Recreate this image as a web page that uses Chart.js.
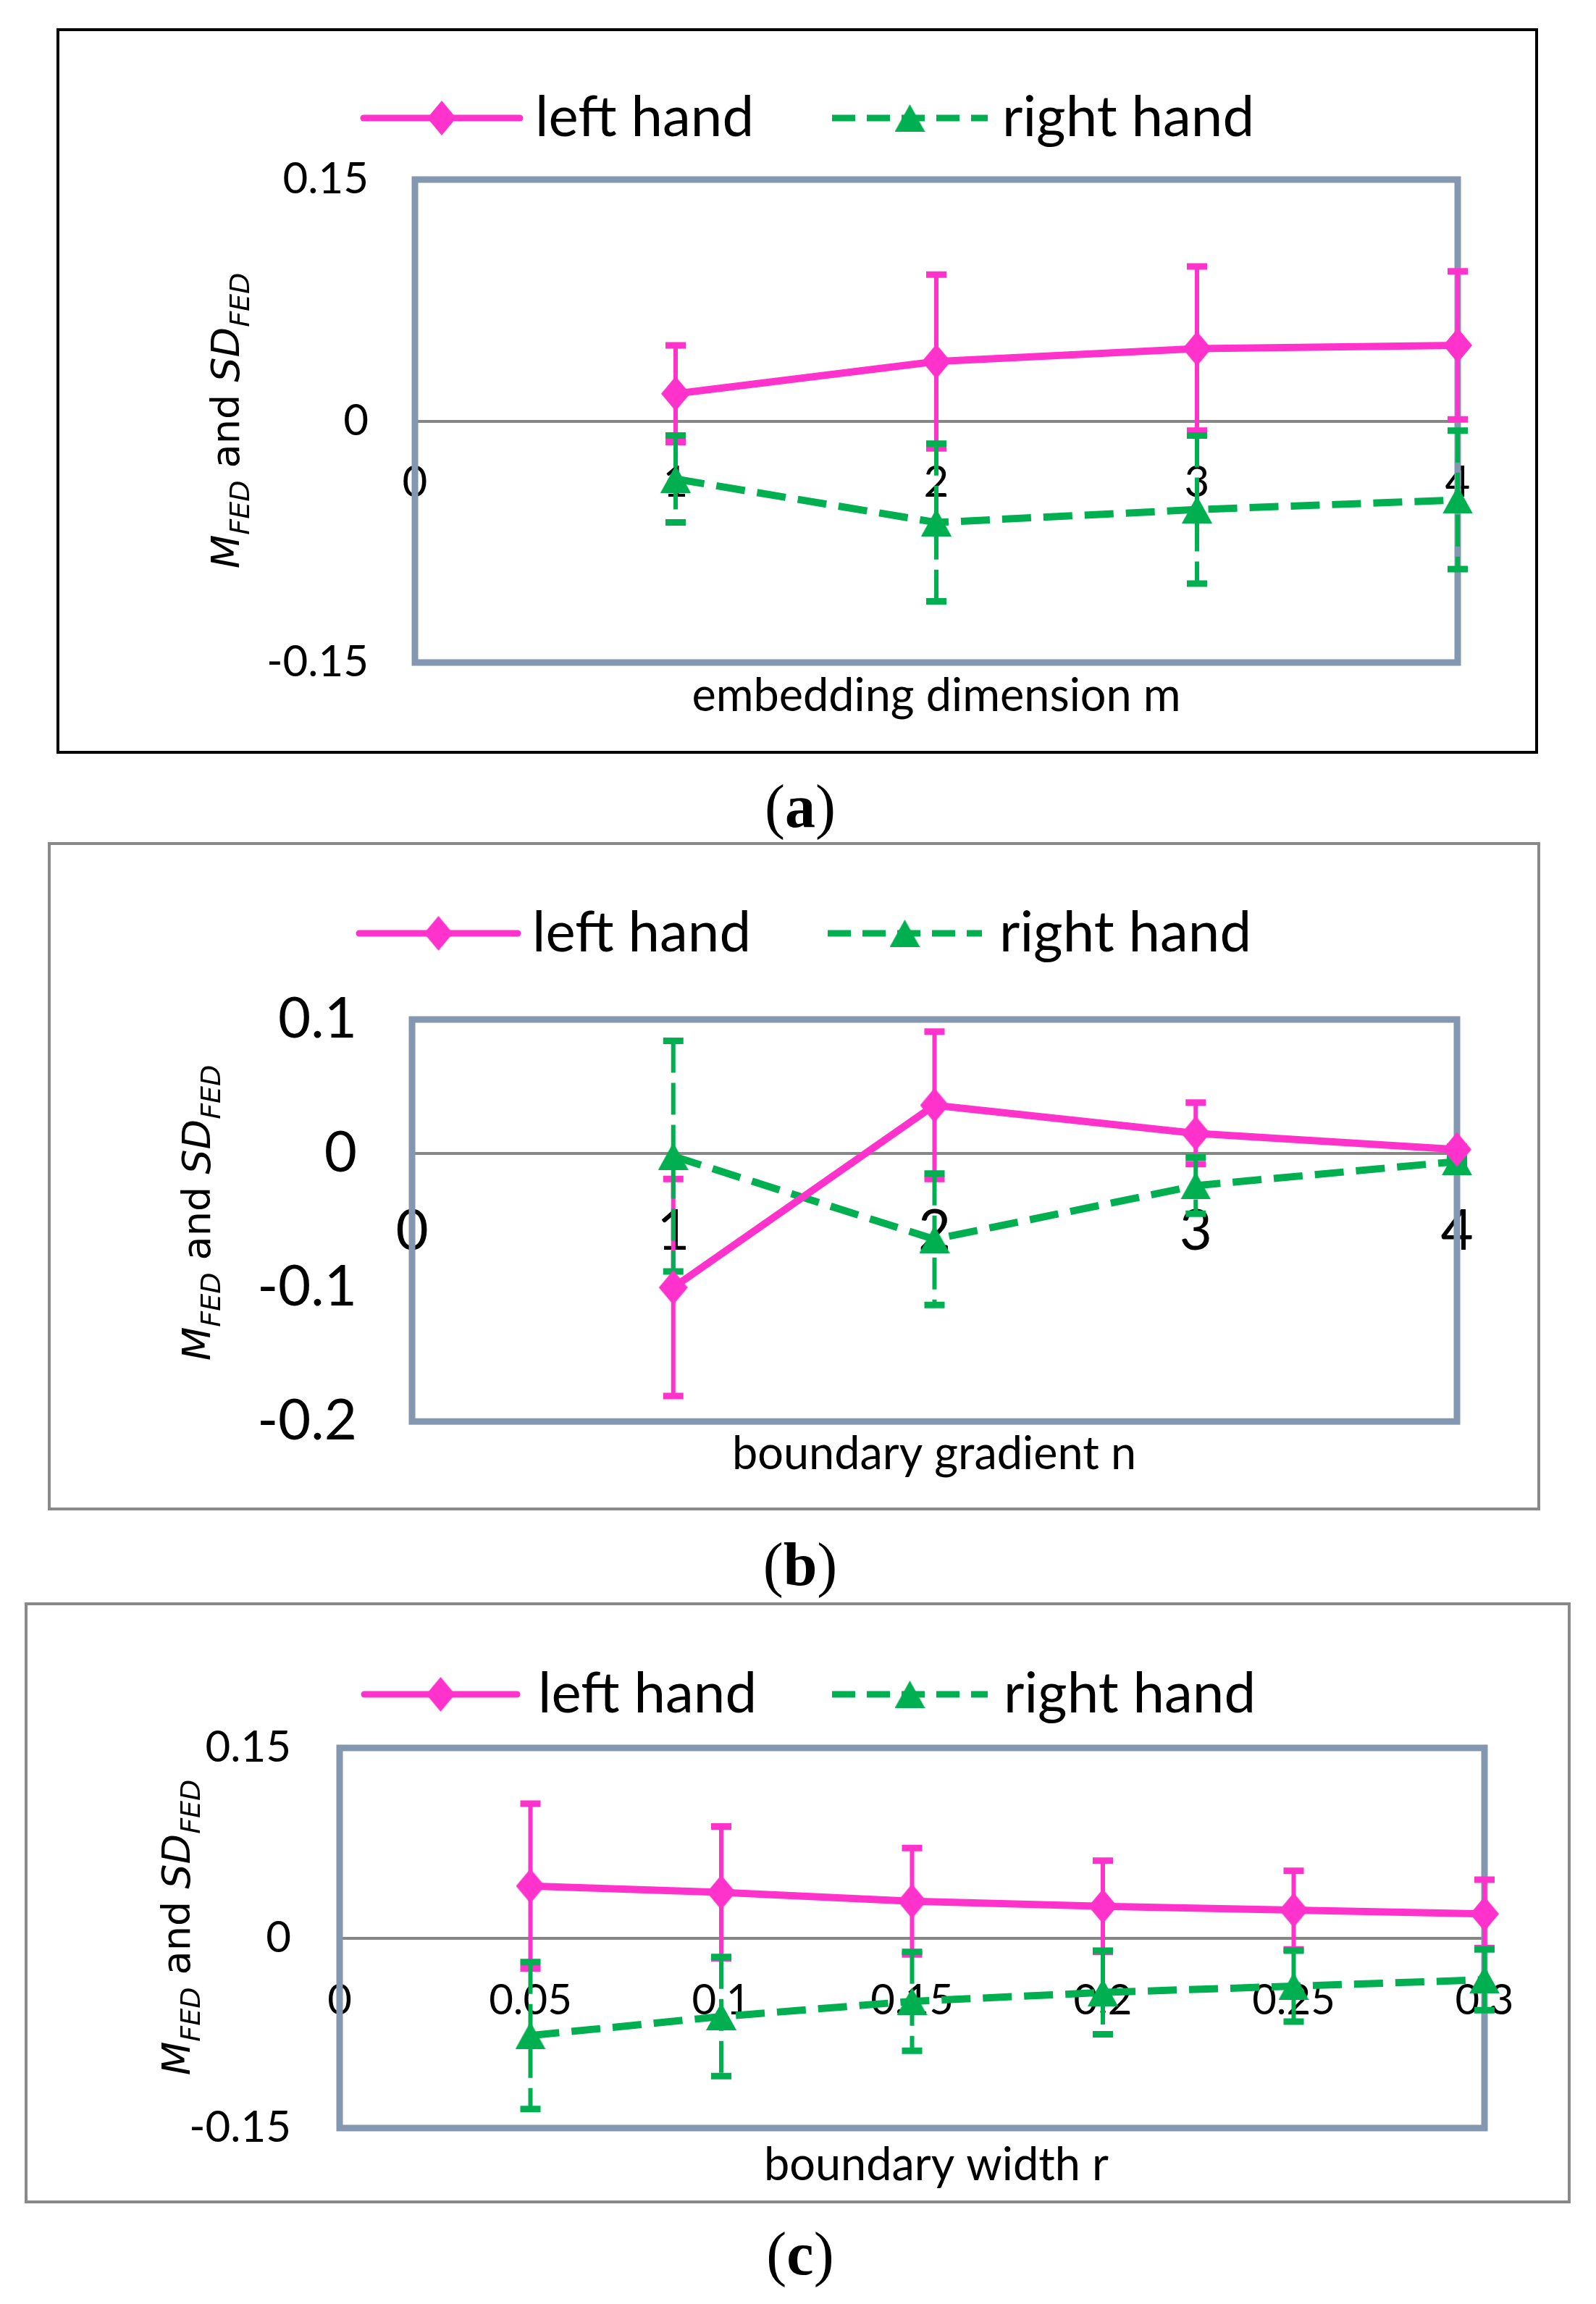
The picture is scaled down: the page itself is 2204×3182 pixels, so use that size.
<!DOCTYPE html>
<html>
<head>
<meta charset="utf-8">
<title>M FED and SD FED</title>
<script src="https://cdn.jsdelivr.net/npm/chart.js@4.4.1/dist/chart.umd.min.js"></script>
<style>
  body { margin: 0; width: 2204px; height: 3182px; background: #fff; position: relative; overflow: hidden; }
  canvas { position: absolute; }
  .caption { position: absolute; left: 0; width: 2210px; text-align: center; font-family: "Liberation Serif", serif; font-size: 84px; line-height: 84px; color: #000; }
</style>
</head>
<body>
<canvas id="chart-a"></canvas>
<canvas id="chart-b"></canvas>
<canvas id="chart-c"></canvas>
<div class="caption" style="top:1072px">(<b>a</b>)</div>
<div class="caption" style="top:2119px">(<b>b</b>)</div>
<div class="caption" style="top:3071px">(<b>c</b>)</div>
<script>
// Values

// (a) embedding dimension m
const mValues = [1, 2, 3, 4];
const leftMeanA = [0.017, 0.037, 0.045, 0.047];
const leftSdA = [0.030, 0.054, 0.051, 0.046];
const rightMeanA = [-0.036, -0.063, -0.055, -0.049];
const rightSdA = [0.027, 0.049, 0.046, 0.043];
const xTicksA = [0, 1, 2, 3, 4];
const yTicksA = [-0.15, 0, 0.15];

// (b) boundary gradient n
const nValues = [1, 2, 3, 4];
const leftMeanB = [-0.100, 0.036, 0.015, 0.003];
const leftSdB = [0.081, 0.055, 0.023, 0.002];
const rightMeanB = [-0.002, -0.064, -0.024, -0.006];
const rightSdB = [0.086, 0.049, 0.021, 0.002];
const xTicksB = [0, 1, 2, 3, 4];
const yTicksB = [-0.2, -0.1, 0, 0.1];

// (c) boundary width r
const rValues = [0.05, 0.1, 0.15, 0.2, 0.25, 0.3];
const leftMeanC = [0.041, 0.036, 0.029, 0.025, 0.022, 0.019];
const leftSdC = [0.065, 0.052, 0.042, 0.036, 0.031, 0.027];
const rightMeanC = [-0.077, -0.062, -0.050, -0.043, -0.038, -0.033];
const rightSdC = [0.058, 0.047, 0.039, 0.033, 0.028, 0.024];
const xTicksC = [0, 0.05, 0.1, 0.15, 0.2, 0.25, 0.3];
const yTicksC = [-0.15, 0, 0.15];

const seriesNames = ['left hand', 'right hand'];

const PINK = '#FF33CC';
const GREEN = '#00B050';
const FRAME = '#8497B0';
const DASH = [40, 17];

// Marker images (Excel style: tall diamond, filled triangle)
function makeMarker(kind, color) {
    const c = document.createElement('canvas');
    const w = kind === 'diamond' ? 40 : 42;
    const h = kind === 'diamond' ? 48 : 38;
    c.width = w; c.height = h;
    const g = c.getContext('2d');
    g.fillStyle = color;
    g.beginPath();
    if (kind === 'diamond') {
        g.moveTo(w / 2, 0); g.lineTo(w, h / 2); g.lineTo(w / 2, h); g.lineTo(0, h / 2);
    } else {
        g.moveTo(w / 2, 0); g.lineTo(w, h); g.lineTo(0, h);
    }
    g.closePath();
    g.fill();
    return c;
}
const diamond = makeMarker('diamond', PINK);
const triangle = makeMarker('triangle', GREEN);

// Draw the M_FED and SD_FED label, rotated, with subscripts
function drawYTitle(ctx, x, y) {
    const parts = [
        { t: 'M', f: 'italic 54px "DejaVu Sans"', dy: 0 },
        { t: 'FED', f: 'italic 38px "DejaVu Sans"', dy: 14 },
        { t: ' and ', f: '54px "DejaVu Sans"', dy: 0 },
        { t: 'SD', f: 'italic 54px "DejaVu Sans"', dy: 0 },
        { t: 'FED', f: 'italic 38px "DejaVu Sans"', dy: 14 }
    ];
    ctx.save();
    ctx.translate(x, y);
    ctx.rotate(-Math.PI / 2);
    ctx.fillStyle = '#000';
    ctx.textBaseline = 'alphabetic';
    ctx.textAlign = 'left';
    let total = 0;
    parts.forEach(p => { ctx.font = p.f; total += ctx.measureText(p.t).width; });
    let pos = -total / 2;
    parts.forEach(p => {
        ctx.font = p.f;
        ctx.fillText(p.t, pos, p.dy);
        pos += ctx.measureText(p.t).width;
    });
    ctx.restore();
}

// Legend: line sample with marker, then the series name
function drawLegend(ctx, p, ox, oy) {
    const y = p.legendY - oy;
    const L = p.legendX.map(v => v - ox);
    ctx.save();
    ctx.lineWidth = 9;
    ctx.lineCap = 'round';
    ctx.strokeStyle = PINK;
    ctx.beginPath(); ctx.moveTo(L[0], y); ctx.lineTo(L[1], y); ctx.stroke();
    let mx = (L[0] + L[1]) / 2;
    ctx.drawImage(diamond, mx - diamond.width / 2, y - diamond.height / 2);

    ctx.lineCap = 'butt';
    ctx.strokeStyle = GREEN;
    ctx.setLineDash([32, 16]);
    ctx.beginPath(); ctx.moveTo(L[3], y); ctx.lineTo(L[4], y); ctx.stroke();
    ctx.setLineDash([]);
    mx = (L[3] + L[4]) / 2;
    ctx.drawImage(triangle, mx - triangle.width / 2, y - triangle.height / 2);

    ctx.fillStyle = '#000';
    ctx.font = '78px Lato';
    ctx.textBaseline = 'middle';
    ctx.textAlign = 'left';
    ctx.fillText(seriesNames[0], L[2], y);
    ctx.fillText(seriesNames[1], L[5], y);
    ctx.restore();
}

// Plugin for the panel furniture and the error bars
function panelDecor(p) {
    const ox = p.box[0], oy = p.box[1];
    return {
        id: 'panelDecor',
        beforeDatasetsDraw(chart) {
            const { ctx, chartArea: a, scales: { x, y } } = chart;
            // plot area frame
            ctx.save();
            ctx.strokeStyle = FRAME;
            ctx.lineWidth = 9;
            ctx.strokeRect(a.left, a.top, a.right - a.left, a.bottom - a.top);
            ctx.restore();

            // error bars (mean +/- sd)
            chart.data.datasets.forEach(ds => {
                ctx.save();
                ctx.strokeStyle = ds.borderColor;
                ds.data.forEach((pt, i) => {
                    const px = x.getPixelForValue(pt.x);
                    const top = y.getPixelForValue(pt.y + ds.sd[i]);
                    const bot = y.getPixelForValue(pt.y - ds.sd[i]);
                    ctx.setLineDash(ds.borderDash ? [44, 14] : []);
                    ctx.lineWidth = 6;
                    ctx.beginPath(); ctx.moveTo(px, top); ctx.lineTo(px, bot); ctx.stroke();
                    ctx.setLineDash([]);
                    ctx.lineWidth = 9;
                    ctx.beginPath();
                    ctx.moveTo(px - 14, top); ctx.lineTo(px + 14, top);
                    ctx.moveTo(px - 14, bot); ctx.lineTo(px + 14, bot);
                    ctx.stroke();
                });
                ctx.restore();
            });
        },
        afterDraw(chart) {
            const ctx = chart.ctx;
            // outer box
            ctx.save();
            ctx.strokeStyle = p.boxColor;
            ctx.lineWidth = 4;
            ctx.strokeRect(2, 2, chart.width - 4, chart.height - 4);
            ctx.restore();

            drawLegend(ctx, p, ox, oy);

            // x axis title
            ctx.save();
            ctx.fillStyle = '#000';
            ctx.font = '63px Lato';
            ctx.textAlign = 'center';
            ctx.textBaseline = 'middle';
            ctx.fillText(p.xTitle, p.xTitlePos[0] - ox, p.xTitlePos[1] - oy);
            ctx.restore();

            drawYTitle(ctx, p.yTitlePos[0] - ox, p.yTitlePos[1] - oy);
        }
    };
}

function buildChart(id, p) {
    const canvas = document.getElementById(id);
    canvas.width = p.box[2] - p.box[0];
    canvas.height = p.box[3] - p.box[1];
    canvas.style.left = p.box[0] + 'px';
    canvas.style.top = p.box[1] + 'px';

    return new Chart(canvas.getContext('2d'), {
        type: 'line',
        data: {
            datasets: [{
                label: seriesNames[0],
                data: p.x.map((v, i) => ({ x: v, y: p.leftMean[i] })),
                sd: p.leftSd,
                borderColor: PINK,
                backgroundColor: PINK,
                borderWidth: 10,
                borderJoinStyle: 'round',
                pointStyle: diamond,
                pointRadius: 22,
                tension: 0,
                clip: false
            }, {
                label: seriesNames[1],
                data: p.x.map((v, i) => ({ x: v, y: p.rightMean[i] })),
                sd: p.rightSd,
                borderColor: GREEN,
                backgroundColor: GREEN,
                borderWidth: 10,
                borderDash: DASH,
                pointStyle: triangle,
                pointRadius: 22,
                tension: 0,
                clip: false
            }]
        },
        options: {
            responsive: false,
            animation: false,
            devicePixelRatio: 1,
            layout: {
                padding: {
                    left: 0,
                    top: p.plot[1] - p.box[1],
                    right: p.box[2] - p.plot[2],
                    bottom: p.box[3] - p.plot[3]
                }
            },
            plugins: { legend: { display: false }, tooltip: { enabled: false } },
            scales: {
                x: {
                    type: 'linear',
                    position: { y: 0 },
                    min: p.xTicks[0],
                    max: p.xTicks[p.xTicks.length - 1],
                    afterBuildTicks: s => { s.ticks = p.xTicks.map(v => ({ value: v })); },
                    ticks: {
                        autoSkip: false, maxRotation: 0, color: '#000',
                        padding: p.xTickPad, font: { family: 'Lato', size: p.xTickSize },
                        callback: v => String(v)
                    },
                    grid: { display: false, drawTicks: false, tickLength: 0 },
                    border: { display: true, color: '#868686', width: 4 }
                },
                y: {
                    min: p.yTicks[0],
                    max: p.yTicks[p.yTicks.length - 1],
                    afterBuildTicks: s => { s.ticks = p.yTicks.map(v => ({ value: v })); },
                    afterFit: s => { s.width = p.plot[0] - p.box[0]; },
                    ticks: {
                        color: '#000', padding: p.yTickPad,
                        font: { family: 'Lato', size: p.yTickSize },
                        callback: v => String(v)
                    },
                    grid: { display: false, drawTicks: false, tickLength: 0 },
                    border: { display: false }
                }
            }
        },
        plugins: [panelDecor(p)]
    });
}

const chartA = buildChart('chart-a', {
    box: [78, 39, 2124, 1041], plot: [573, 248, 2013, 915], boxColor: '#000',
    x: mValues, leftMean: leftMeanA, leftSd: leftSdA, rightMean: rightMeanA, rightSd: rightSdA,
    xTicks: xTicksA, yTicks: yTicksA,
    xTickSize: 60, xTickPad: 49, yTickSize: 60, yTickPad: 64,
    legendY: 163, legendX: [502, 718, 739, 1149, 1364, 1384],
    xTitle: 'embedding dimension m', xTitlePos: [1293, 962], yTitlePos: [330, 581]
});

const chartB = buildChart('chart-b', {
    box: [66, 1163, 2127, 2086], plot: [569, 1408, 2012, 1970], boxColor: '#898989',
    x: nValues, leftMean: leftMeanB, leftSd: leftSdB, rightMean: rightMeanB, rightSd: rightSdB,
    xTicks: xTicksB, yTicks: yTicksB,
    xTickSize: 78, xTickPad: 61, yTickSize: 78, yTickPad: 76,
    legendY: 1289, legendX: [496, 715, 735, 1143, 1356, 1380],
    xTitle: 'boundary gradient n', xTitlePos: [1290, 2009], yTitlePos: [290, 1675]
});

const chartC = buildChart('chart-c', {
    box: [34, 2213, 2169, 3043], plot: [469, 2414, 2050, 2939], boxColor: '#898989',
    x: rValues, leftMean: leftMeanC, leftSd: leftSdC, rightMean: rightMeanC, rightSd: rightSdC,
    xTicks: xTicksC, yTicks: yTicksC,
    xTickSize: 58, xTickPad: 52, yTickSize: 60, yTickPad: 67,
    legendY: 2340, legendX: [503, 714, 743, 1149, 1364, 1386],
    xTitle: 'boundary width r', xTitlePos: [1293, 2991], yTitlePos: [262, 2662]
});
</script>
</body>
</html>
